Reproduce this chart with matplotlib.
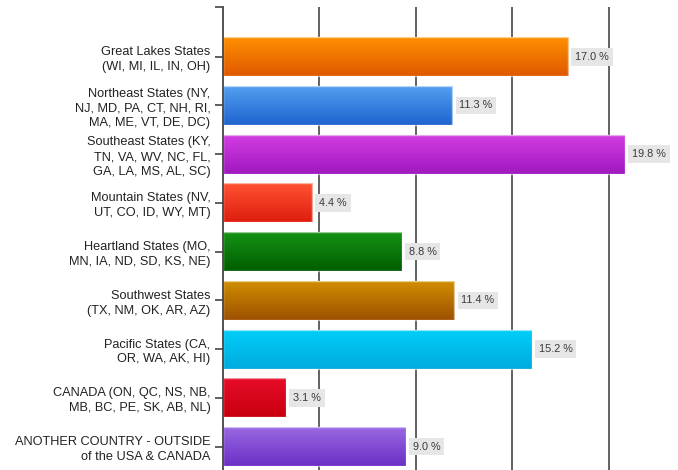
import matplotlib
matplotlib.use("Agg")
import matplotlib.pyplot as plt
import numpy as np
from matplotlib.colors import LinearSegmentedColormap

categories = [
    "Great Lakes States\n(WI, MI, IL, IN, OH)",
    "Northeast States (NY,\nNJ, MD, PA, CT, NH, RI,\nMA, ME, VT, DE, DC)",
    "Southeast States (KY,\nTN, VA, WV, NC, FL,\nGA, LA, MS, AL, SC)",
    "Mountain States (NV,\nUT, CO, ID, WY, MT)",
    "Heartland States (MO,\nMN, IA, ND, SD, KS, NE)",
    "Southwest States\n(TX, NM, OK, AR, AZ)",
    "Pacific States (CA,\nOR, WA, AK, HI)",
    "CANADA (ON, QC, NS, NB,\nMB, BC, PE, SK, AB, NL)",
    "ANOTHER COUNTRY - OUTSIDE\nof the USA & CANADA",
]
values = [17.0, 11.3, 19.8, 4.4, 8.8, 11.4, 15.2, 3.1, 9.0]
value_labels = ["17.0 %", "11.3 %", "19.8 %", "4.4 %", "8.8 %", "11.4 %", "15.2 %", "3.1 %", "9.0 %"]

top_colors = ["#ff8e00", "#539ff0", "#d23ee2", "#ff5232", "#159215", "#d08e00", "#00cdf8", "#e80c2a", "#9a68e2"]
bot_colors = ["#e05a00", "#1f64cf", "#a018bf", "#de1e0e", "#005e00", "#9e5000", "#00acdf", "#c8000e", "#6a30c6"]

W, H = 678, 470
fig = plt.figure(figsize=(W / 100, H / 100), dpi=100)
ax_left, ax_right = 223, 668
ax_top, ax_bot = 7, 470
ax = fig.add_axes([ax_left / W, (H - ax_bot) / H, (ax_right - ax_left) / W, (ax_bot - ax_top) / H])

px_per_unit = 20.3
ax.set_xlim(0, (ax_right - ax_left) / px_per_unit)
ax.set_ylim(8.48, -1.02)

y = np.arange(len(categories))
bars = ax.barh(y, values, height=0.8, facecolor="none",
               edgecolor=(1, 1, 1, 0.55), linewidth=1.0, zorder=4)

grad = np.linspace(0, 1, 64).reshape(-1, 1)
for rect, c0, c1 in zip(bars.patches, top_colors, bot_colors):
    cmap = LinearSegmentedColormap.from_list("g", [c0, c1])
    x0, y0 = rect.get_x(), rect.get_y()
    w, h = rect.get_width(), rect.get_height()
    ax.imshow(grad, cmap=cmap, aspect="auto", extent=[x0, x0 + w, y0 + h, y0],
              zorder=3, interpolation="bilinear")

for rect, lab in zip(bars.patches, value_labels):
    xe = rect.get_x() + rect.get_width()
    yc = rect.get_y() + rect.get_height() / 2
    ax.annotate(lab, xy=(xe, yc), xytext=(5, 0), textcoords="offset points",
                ha="left", va="center", fontsize=7.8, color="#3a3a3a",
                family="Liberation Sans", zorder=6,
                bbox=dict(boxstyle="square,pad=0.35", facecolor="#e6e6e6", edgecolor="none"))

# vertical gridlines
grid_step = 96.5 / px_per_unit
for k in range(1, 5):
    ax.axvline(k * grid_step, color="#555555", linewidth=1.3, zorder=1)

ax.set_yticks(y)
ax.set_yticklabels(categories, fontsize=9.2, color="#222222", family="Liberation Sans",
                   linespacing=1.3)
ax.set_yticks([-1.02], minor=True)
ax.tick_params(axis="y", which="both", length=6, width=1.2, color="#444444", pad=3)
ax.set_xticks([])

for s in ["top", "right", "bottom"]:
    ax.spines[s].set_visible(False)
ax.spines["left"].set_color("#444444")
ax.spines["left"].set_linewidth(1.3)
ax.spines["left"].set_zorder(5)
ax.set_facecolor("white")
fig.patch.set_facecolor("white")

fig.savefig("out.png", dpi=100)
